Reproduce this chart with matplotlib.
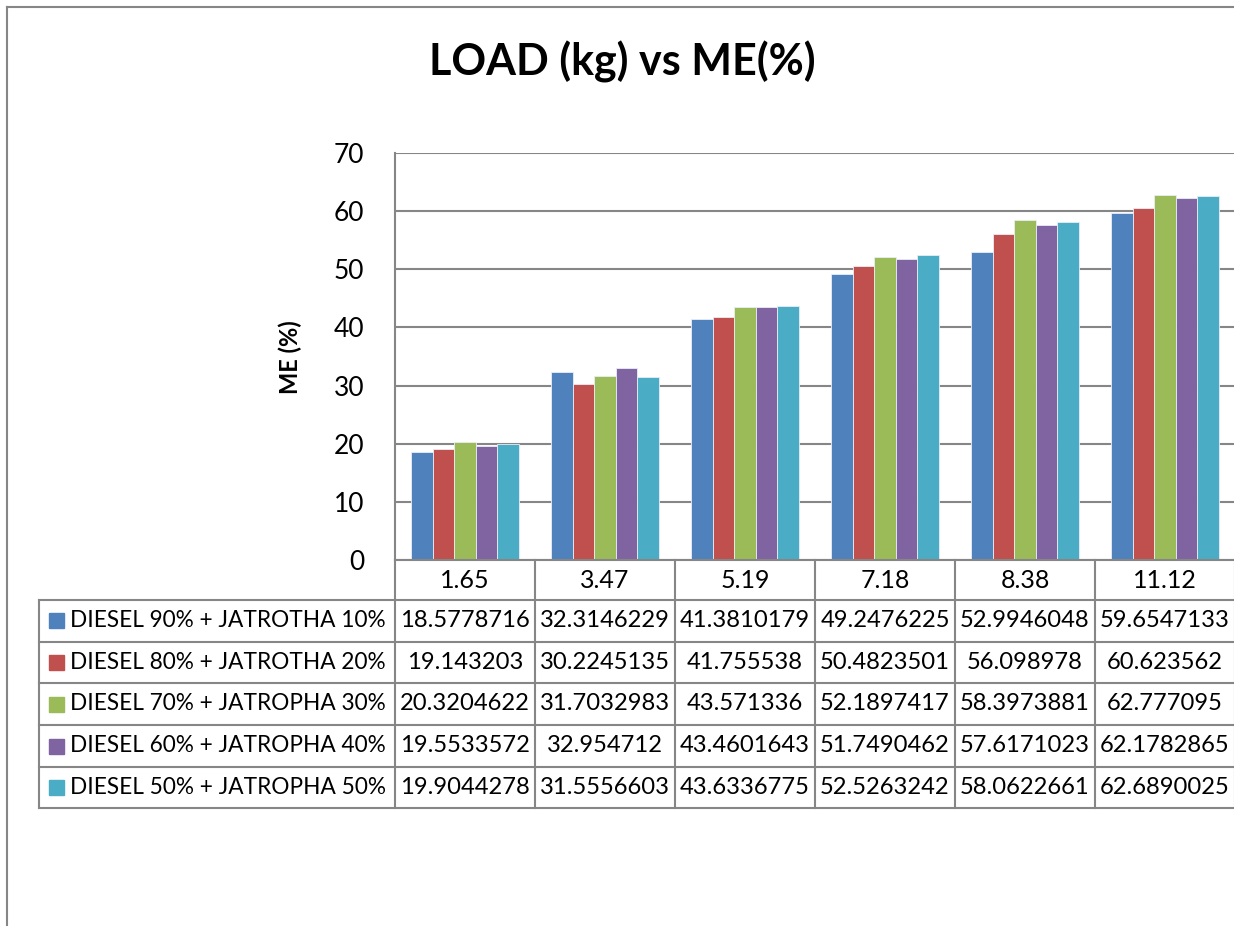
import matplotlib.pyplot as plt
import matplotlib.transforms as mtransforms
from matplotlib.lines import Line2D
from matplotlib.patches import Rectangle

plt.rcParams['font.family'] = ['Lato', 'DejaVu Sans']

# chart data
loads = ["1.65", "3.47", "5.19", "7.18", "8.38", "11.12"]
series_names = [
    "DIESEL 90% + JATROTHA 10%",
    "DIESEL 80% + JATROTHA 20%",
    "DIESEL 70% + JATROPHA 30%",
    "DIESEL 60% + JATROPHA 40%",
    "DIESEL 50% + JATROPHA 50%",
]
d90 = [18.5778716, 32.3146229, 41.3810179, 49.2476225, 52.9946048, 59.6547133]
d80 = [19.143203, 30.2245135, 41.755538, 50.4823501, 56.098978, 60.623562]
d70 = [20.3204622, 31.7032983, 43.571336, 52.1897417, 58.3973881, 62.777095]
d60 = [19.5533572, 32.954712, 43.4601643, 51.7490462, 57.6171023, 62.1782865]
d50 = [19.9044278, 31.5556603, 43.6336775, 52.5263242, 58.0622661, 62.6890025]
series = [d90, d80, d70, d60, d50]
colors = ["#4F81BD", "#C0504D", "#9BBB59", "#8064A2", "#4BACC6"]
yticks = [0, 10, 20, 30, 40, 50, 60, 70]

W, H = 1234, 926
GRID = "#868686"


def fx(px):
    return px / W


def fy(py):
    return 1 - py / H


fig = plt.figure(figsize=(W / 100, H / 100), dpi=100)

# outer chart border (cropped on the right and bottom)
fig.add_artist(Line2D([fx(7), fx(7)], [fy(7), 0], color=GRID, lw=1.5))
fig.add_artist(Line2D([fx(7), 1], [fy(7), fy(7)], color=GRID, lw=1.5))

# plot area
ax = fig.add_axes([fx(395), fy(560), (1235 - 395) / W, (560 - 153) / H])
n = len(series)
bw = 0.154
x = list(range(len(loads)))
for i, (vals, c) in enumerate(zip(series, colors)):
    pos = [k + (i - (n - 1) / 2) * bw for k in x]
    ax.bar(pos, vals, width=bw, color=c, edgecolor="#e8eef5", linewidth=0.6,
           label=series_names[i], zorder=3)

ax.set_xlim(-0.5, len(loads) - 0.5)
ax.set_ylim(0, 70)
ax.set_yticks(yticks)
ax.set_xticks([])
ax.yaxis.grid(True, color=GRID, linewidth=1.5, zorder=0)
ax.set_axisbelow(True)
for s in ["top", "right", "bottom"]:
    ax.spines[s].set_visible(False)
ax.spines["left"].set_color(GRID)
ax.spines["left"].set_linewidth(1.5)
ax.tick_params(axis="y", length=0, pad=22, labelsize=19)
fig.text(fx(290), fy(357), "ME (%)", rotation=90, ha="center", va="center",
         fontsize=17, fontweight="bold")

fig.text(fx(622), fy(62), "LOAD (kg) vs ME(%)", ha="center", va="center",
         fontsize=31, fontweight="bold")

# data table under the plot
blend = mtransforms.blended_transform_factory(ax.transData, fig.transFigure)
row_lines = [560, 600, 641.5, 683, 725, 767, 808]

# horizontal lines
for j, ry in enumerate(row_lines):
    x0 = 39 if j >= 1 else 395
    fig.add_artist(Line2D([fx(x0), fx(1235)], [fy(ry), fy(ry)], color=GRID, lw=1.5))
# vertical lines at category boundaries
for k in range(len(loads) + 1):
    ax.add_line(Line2D([k - 0.5, k - 0.5], [fy(560), fy(808)], transform=blend,
                       color=GRID, lw=1.5, clip_on=False))
fig.add_artist(Line2D([fx(39), fx(39)], [fy(600), fy(808)], color=GRID, lw=1.5))

# header row: loads
for k, lab in enumerate(loads):
    ax.text(k, fy(580), lab, transform=blend, ha="center", va="center", fontsize=18)

# series rows
for i, (name, vals, c) in enumerate(zip(series_names, series, colors)):
    yc = (row_lines[i + 1] + row_lines[i + 2]) / 2
    fig.add_artist(Rectangle((fx(49), fy(yc + 7.5)), 15 / W, 15 / H,
                             transform=fig.transFigure, color=c))
    fig.text(fx(70), fy(yc), name, ha="left", va="center", fontsize=16.3)
    for k, v in enumerate(vals):
        ax.text(k, fy(yc), str(v), transform=blend, ha="center", va="center",
                fontsize=17.1)

fig.savefig("out.png", dpi=100)
